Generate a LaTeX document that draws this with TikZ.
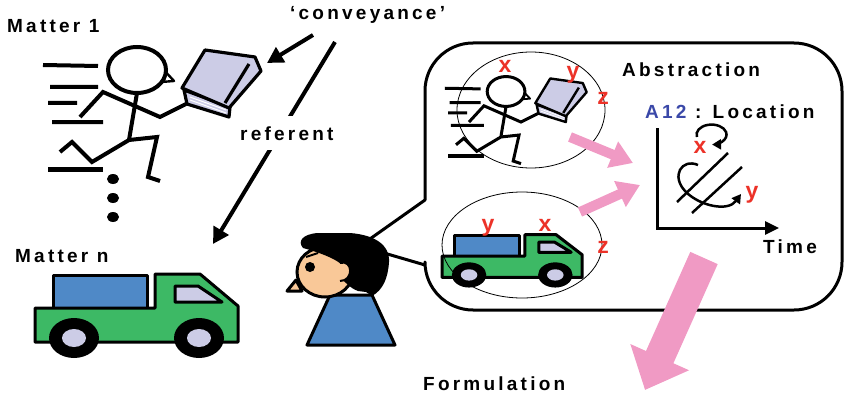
\documentclass[tikz,border=0pt]{standalone}
\usepackage{fontspec}
\setmainfont{Liberation Sans}
\usetikzlibrary{arrows.meta}

\definecolor{truckgreen}{RGB}{61,185,101}
\definecolor{boxblue}{RGB}{79,137,199}
\definecolor{lavender}{RGB}{204,204,230}
\definecolor{skin}{RGB}{249,200,152}
\definecolor{flowpink}{RGB}{240,154,196}
\definecolor{varred}{RGB}{236,50,40}
\definecolor{nameblue}{RGB}{58,72,168}

\begin{document}
\begin{tikzpicture}[
    x=1pt, y=-1pt,
    caption/.style={font=\bfseries\fontsize{19}{19}\selectfont\addfontfeature{LetterSpace=17}, inner sep=0pt, anchor=base west},
    var/.style={font=\bfseries\fontsize{23}{23}\selectfont, text=varred, inner sep=0pt, anchor=base},
    pointer/.style={line width=4pt, -{Triangle[width=17pt,length=16pt]}},
    pinkarrow/.style={draw=flowpink, line width=10pt, -{Triangle[width=27pt,length=22pt]}},
    truckline/.style={line width=3pt, line join=round},
]
\useasboundingbox (0,0) rectangle (844,396);

% Define a command for the running man with his book
\newcommand{\drawrunner}[1]{
    % speed lines
    \draw[line width=#1] (43,65) -- (98,66) (50,87) -- (98,87) (48,103) -- (77,103) (52,122) -- (103,122);
    \draw[line width=#1+1pt] (48,169) -- (103,169);
    % head with nose
    \draw[line width=#1*0.6, fill=white, line join=round] (162,68) -- (174,81) -- (161,82) -- cycle;
    \draw[line width=#1, fill=white] (137,70) ellipse [x radius=29, y radius=23];
    % body, arms and legs
    \draw[line width=#1] (137,93) -- (129,140);
    \draw[line width=#1] (80,117) -- (103,92) -- (160,117) -- (186,104);
    \draw[line width=#1] (60,152) -- (72,142) -- (92,162) -- (129,140) -- (157,137) -- (148,177) -- (160,181);
    % book
    \draw[line width=#1*0.8, fill=lavender, line join=round] (184,90) -- (230,107) -- (229,117) -- (187,104) -- cycle;
    \draw[white, line width=#1*0.25] (190,97) -- (226,110) (190,100) -- (226,113);
    \draw[line width=#1*0.8, fill=lavender, line join=round] (182,88) -- (205,50) -- (255,57) -- (261,71) -- (229,108) -- cycle;
    \draw[line width=#1*0.8] (249,64) -- (225,103);
}

% Define a command for the truck
\newcommand{\drawtruck}{
    \draw[truckline, fill=boxblue] (53,275) rectangle (147,308);
    \draw[truckline, fill=truckgreen] (35,308) -- (155,308) -- (155,274) -- (200,274) -- (238,306) -- (238,342) -- (35,342) -- cycle;
    \draw[truckline, fill=lavender] (175,286) -- (198,286) -- (222,302) -- (175,302) -- cycle;
    \foreach \wx in {74,199} {
        \fill (\wx,338) ellipse [x radius=25, y radius=20];
        \fill[lavender] (\wx,338) ellipse [x radius=12, y radius=9];
    }
}

% Matter 1 and Matter n on the left
\node[caption] (matter1) at (7,33) {Matter 1};
\drawrunner{4pt}
\foreach \dy in {179,198,217} {
    \fill (113,\dy) ellipse [x radius=6, y radius=5];
}
\node[caption] (mattern) at (15,262) {Matter n};
\drawtruck

% conveyance and referent arrows
\node[caption] (conveyance) at (290,20) {‘conveyance’};
\coordinate (convtail) at (313,35);
\coordinate (booktip) at (267,63);
\draw[pointer] (convtail) -- (booktip);
\coordinate (reftail) at (335,42);
\coordinate (trucktip) at (213,244);
\draw[pointer] (reftail) -- (trucktip);
\node[caption, fill=white, inner xsep=2pt, inner ysep=10pt] (referent) at (238,140) {referent};

% the thinking person
\draw[line width=3pt, fill=boxblue, line join=round] (330,295) -- (372,295) -- (395,345) -- (307,345) -- cycle;
\draw[line width=3pt, fill=skin, line join=round] (296,280) -- (287,291) -- (302,291) -- cycle;
\draw[line width=3pt, fill=skin] (325,272) ellipse [x radius=28, y radius=25];
\fill (303,248) .. controls (297,241) and (303,234) .. (318,233)
    -- (350,233) .. controls (375,235) and (390,245) .. (389,262)
    .. controls (388,278) and (383,290) .. (372,296)
    -- (366,292) -- (358,291)
    .. controls (350,288) and (346,283) .. (342,279)
    -- (341,264) .. controls (334,258) and (318,252) .. (303,248) -- cycle;
\draw[line width=2pt, fill=skin] (340,263) .. controls (353,259) and (354,281) .. (340,281);
\fill (310,267) circle [radius=5];
\draw[line width=2pt] (306,257) -- (318,253);

% speech bubble
\draw[line width=3pt, line join=round] (425,200) -- (425,91) arc[start angle=180, end angle=270, radius=48]
    -- (794,43) arc[start angle=270, end angle=360, radius=48]
    -- (842,262) arc[start angle=0, end angle=90, radius=48]
    -- (473,310) arc[start angle=90, end angle=180, radius=48]
    -- (425,265) -- (360,246) -- cycle;

% the two matters seen inside the bubble
\begin{scope}[shift={(417,46)}, scale=0.65]
    \drawrunner{3pt}
\end{scope}
\draw[line width=0.8pt] (531,110) ellipse [x radius=74, y radius=58];
\node[var] (x1) at (505,73) {x};
\node[var] (y1) at (573,79) {y};
\node[var] (z1) at (603,104) {z};

\begin{scope}[shift={(418,62)}, xscale=0.69, yscale=0.63]
    \drawtruck
\end{scope}
\draw[line width=0.8pt] (522,245) ellipse [x radius=80, y radius=53];
\node[var] (yn) at (488,231) {y};
\node[var] (xn) at (545,231) {x};
\node[var] (zn) at (603,253) {z};

% abstraction graph
\node[caption] (abstraction) at (622,77) {Abstraction};
\node[caption] (attribute) at (645,118) {\textcolor{nameblue}{A12} : Location};
\draw[line width=3pt, -{Triangle[width=13pt,length=14pt]}] (657,128) -- (657,228) -- (779,228);
\node[caption] (time) at (763,253) {Time};
\draw[line width=2.5pt] (728,153) -- (677,202);
\draw[line width=2.5pt] (742,167) -- (692,213);
\draw[line width=2.5pt, -{Triangle[width=10pt,length=9pt]}] (697,137) arc[start angle=166, end angle=448, x radius=15, y radius=10];
\draw[line width=2.5pt, -{Triangle[width=10pt,length=9pt]}] (698,165) .. controls (682,158) and (670,176) .. (686,192) .. controls (700,206) and (728,212) .. (741,194);
\node[var] (xa) at (700,153) {x};
\node[var] (ya) at (752,198) {y};

% pink flow arrows
\draw[pinkarrow] (570,137) -- (633,163);
\draw[pinkarrow] (580,212) -- (640,185);
\draw[draw=flowpink, line width=30pt, -{Triangle[width=62pt,length=36pt]}] (704,258) -- (645,390);
\node[caption] (formulation) at (423,390) {Formulation};

\end{tikzpicture}
\end{document}
